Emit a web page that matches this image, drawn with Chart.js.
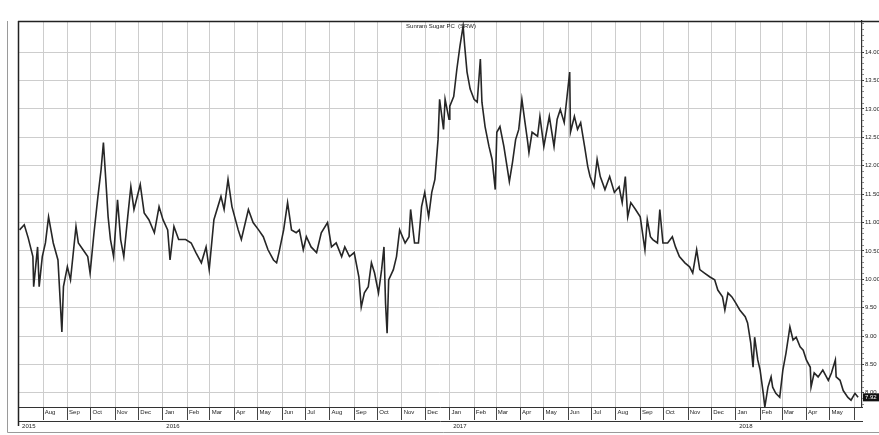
<!DOCTYPE html>
<html>
<head>
<meta charset="utf-8">
<script src="https://cdn.jsdelivr.net/npm/chart.js@4.4.1/dist/chart.umd.min.js"></script>
<style>
  html, body { margin: 0; padding: 0; background: #fff; }
  #wrap { width: 879px; height: 435px; position: relative; }
</style>
</head>
<body>
<div id="wrap"><canvas id="chart" width="879" height="435"></canvas></div>
<script>
const chartTitle = 'Sunram Sugar PC  (SRW)';

// x = days since 1 Jul 2015
const tradeDay = [
  1, 7, 12, 18, 19, 24, 26, 30, 34, 38,
  41, 44, 50, 53, 55, 57, 62, 66, 73, 76,
  82, 88, 91, 96, 101, 105, 108, 111, 114, 117,
  121, 126, 130, 134, 139, 143, 147, 155, 160, 166,
  173, 179, 184, 190, 193, 198, 204, 213, 220, 226,
  233, 239, 243, 249, 258, 262, 267, 272, 280, 284,
  293, 299, 306, 312, 318, 325, 329, 332, 338, 343,
  348, 354, 358, 363, 367, 373, 380, 386, 394, 399,
  405, 412, 416, 422, 428, 434, 437, 441, 446, 450,
  454, 459, 463, 466, 468, 470, 472, 478, 482, 486,
  493, 498, 500, 505, 510, 514, 518, 523, 527, 531,
  535, 537, 542, 544, 549, 550, 555, 559, 563, 567,
  569, 572, 576, 581, 585, 589, 591, 595, 600, 604,
  608, 610, 614, 619, 623, 626, 630, 634, 638, 642,
  646, 649, 651, 655, 662, 665, 670, 677, 683, 687,
  691, 696, 703, 704, 709, 713, 717, 722, 726, 729,
  734, 738, 742, 748, 754, 760, 766, 770, 774, 777,
  781, 787, 793, 799, 802, 806, 809, 815, 818, 822,
  828, 834, 838, 843, 850, 856, 860, 865, 869, 875,
  882, 888, 892, 898, 901, 905, 910, 915, 920, 927,
  930, 934, 937, 939, 943, 946, 950, 952, 956, 960,
  962, 966, 971, 975, 979, 984, 988, 992, 997, 1001,
  1005, 1010, 1011, 1015, 1020, 1026, 1033, 1037, 1042, 1043,
  1048, 1052, 1058, 1062, 1067, 1071
];

const price = [
  10.87, 10.96, 10.73, 10.40, 9.87, 10.57, 9.87, 10.40, 10.64, 11.10,
  10.87, 10.64, 10.34, 9.58, 9.07, 9.87, 10.22, 9.99, 10.93, 10.64,
  10.52, 10.40, 10.11, 10.82, 11.46, 11.93, 12.41, 11.76, 11.10, 10.70,
  10.40, 11.40, 10.70, 10.40, 11.10, 11.63, 11.23, 11.67, 11.17, 11.05,
  10.82, 11.28, 11.05, 10.87, 10.34, 10.93, 10.70, 10.70, 10.64, 10.47,
  10.29, 10.57, 10.17, 11.05, 11.46, 11.23, 11.76, 11.28, 10.87, 10.70,
  11.23, 11.00, 10.87, 10.75, 10.52, 10.34, 10.29, 10.47, 10.87, 11.35,
  10.87, 10.82, 10.87, 10.52, 10.75, 10.57, 10.47, 10.82, 11.00, 10.57,
  10.64, 10.40, 10.57, 10.40, 10.47, 10.04, 9.51, 9.76, 9.87, 10.29,
  10.11, 9.76, 10.17, 10.57, 9.58, 9.05, 9.99, 10.17, 10.40, 10.87,
  10.64, 10.75, 11.23, 10.64, 10.64, 11.28, 11.53, 11.10, 11.53, 11.76,
  12.46, 13.17, 12.64, 13.17, 12.82, 13.05, 13.22, 13.70, 14.11, 14.46,
  14.11, 13.65, 13.35, 13.17, 13.12, 13.88, 13.12, 12.69, 12.34, 12.11,
  11.58, 12.59, 12.69, 12.34, 11.99, 11.72, 12.06, 12.46, 12.64, 13.17,
  12.76, 12.46, 12.23, 12.59, 12.52, 12.87, 12.34, 12.87, 12.34, 12.82,
  12.99, 12.76, 13.65, 12.59, 12.87, 12.64, 12.76, 12.34, 11.99, 11.81,
  11.63, 12.11, 11.81, 11.58, 11.81, 11.53, 11.63, 11.35, 11.81, 11.10,
  11.35, 11.23, 11.10, 10.52, 11.05, 10.75, 10.70, 10.64, 11.23, 10.64,
  10.64, 10.75, 10.57, 10.40, 10.29, 10.22, 10.11, 10.52, 10.17, 10.11,
  10.04, 9.99, 9.81, 9.69, 9.46, 9.76, 9.69, 9.58, 9.46, 9.34,
  9.23, 8.88, 8.45, 8.98, 8.58, 8.40, 7.99, 7.75, 8.10, 8.28,
  8.10, 7.99, 7.92, 8.40, 8.70, 9.16, 8.93, 8.98, 8.81, 8.75,
  8.58, 8.45, 8.10, 8.35, 8.28, 8.40, 8.22, 8.35, 8.58, 8.28,
  8.22, 8.04, 7.92, 7.87, 7.99, 7.92
];

const monthNames = ['Jan','Feb','Mar','Apr','May','Jun','Jul','Aug','Sep','Oct','Nov','Dec'];
const yearLabels = ['2015', '2016', '2017', '2018'];
const yLabelValues = [8.00, 8.50, 9.00, 9.50, 10.00, 10.50, 11.00, 11.50, 12.00, 12.50, 13.00, 13.50, 14.00];

// month ticks from Jul 2015 to Jun 2018
const DAY = 86400000;
const origin = Date.UTC(2015, 6, 1);
const monthTicks = [];
const monthTickLabels = [];
const yearTicks = [];
for (let y = 2015; y <= 2018; y++) {
  for (let m = 0; m < 12; m++) {
    if (y === 2015 && m < 6) continue;
    if (y === 2018 && m > 5) break;
    const d = Math.round((Date.UTC(y, m, 1) - origin) / DAY);
    monthTicks.push(d);
    // first and last month have no room for a label
    const isEdge = (y === 2015 && m === 6) || (y === 2018 && m === 5);
    monthTickLabels.push(isEdge ? '' : monthNames[m]);
    if (m === 0 || (y === 2015 && m === 6)) yearTicks.push(d);
  }
}

const minorTicks = [];
for (let v = 78; v <= 145; v++) minorTicks.push(v / 10);
const isMajor = v => yLabelValues.some(t => Math.abs(t - v) < 1e-6);

const smallFont = { family: 'Liberation Sans, Arial, sans-serif', size: 6 };

const framePlugin = {
  id: 'frame',
  beforeDraw(chart) {
    const c = chart.ctx;
    c.save();
    c.fillStyle = '#ffffff';
    c.fillRect(0, 0, chart.width, chart.height);
    c.restore();
  },
  afterDraw(chart) {
    const c = chart.ctx;
    const a = chart.chartArea;
    c.save();
    // outer page frame
    c.strokeStyle = '#9a9a9a';
    c.lineWidth = 1;
    c.beginPath();
    c.moveTo(7.5, a.top);
    c.lineTo(7.5, chart.height - 2.5);
    c.lineTo(chart.width, chart.height - 2.5);
    c.stroke();
    // top rule and left edge
    c.strokeStyle = '#222';
    c.lineWidth = 1.5;
    c.beginPath();
    c.moveTo(a.left, a.top + 0.5);
    c.lineTo(chart.width, a.top + 0.5);
    c.stroke();
    c.lineWidth = 1.5;
    c.beginPath();
    c.moveTo(a.left + 0.5, a.top);
    c.lineTo(a.left + 0.5, a.bottom + 19);
    c.stroke();
    // title
    c.fillStyle = '#222';
    c.font = '6px Liberation Sans, Arial, sans-serif';
    c.textAlign = 'center';
    c.textBaseline = 'top';
    c.fillText(chartTitle, (a.left + a.right) / 2 + 1, a.top + 2);
    // last price marker
    const last = price[price.length - 1];
    const py = chart.scales.y.getPixelForValue(last);
    c.fillStyle = '#111';
    c.fillRect(a.right + 1, py - 4, chart.width - a.right - 1, 8);
    c.fillStyle = '#fff';
    c.textAlign = 'left';
    c.textBaseline = 'middle';
    c.fillText(last.toFixed(2), a.right + 3, py);
    c.restore();
  }
};

new Chart(document.getElementById('chart'), {
  type: 'line',
  data: {
    datasets: [{
      label: chartTitle,
      data: tradeDay.map((d, i) => ({ x: d, y: price[i] })),
      borderColor: '#262626',
      borderWidth: 1.6,
      pointRadius: 0,
      tension: 0,
      fill: false
    }]
  },
  options: {
    responsive: false,
    animation: false,
    devicePixelRatio: 1,
    layout: { padding: { left: 18, top: 21, right: 0, bottom: 0 } },
    plugins: { legend: { display: false }, tooltip: { enabled: false } },
    scales: {
      x: {
        type: 'linear',
        position: 'bottom',
        min: -1,
        max: 1076,
        afterBuildTicks: s => { s.ticks = monthTicks.map(v => ({ value: v })); },
        afterFit: s => { s.height = 14; },
        grid: { color: '#cdcdcd', lineWidth: 1, drawTicks: true, tickLength: 13, tickColor: '#444' },
        border: { display: true, color: '#333', width: 1 },
        ticks: {
          autoSkip: false, maxRotation: 0, minRotation: 0,
          align: 'start', padding: -11, color: '#222', font: smallFont,
          callback: (v, i) => ' ' + monthTickLabels[i]
        }
      },
      x2: {
        type: 'linear',
        position: 'bottom',
        weight: 1,
        min: -1,
        max: 1076,
        afterBuildTicks: s => { s.ticks = yearTicks.map(v => ({ value: v })); },
        afterFit: s => { s.height = 14; },
        grid: { display: false, drawTicks: false },
        border: { display: true, color: '#333', width: 1 },
        ticks: {
          autoSkip: false, maxRotation: 0, minRotation: 0,
          align: 'start', padding: 2, color: '#222', font: smallFont,
          callback: (v, i) => '  ' + yearLabels[i]
        }
      },
      y: {
        type: 'linear',
        position: 'right',
        min: 7.75,
        max: 14.55,
        afterBuildTicks: s => { s.ticks = minorTicks.map(v => ({ value: v })); },
        afterFit: s => { s.width = 17; },
        grid: {
          color: ctx => isMajor(ctx.tick.value) ? '#cdcdcd' : 'rgba(0,0,0,0)',
          tickColor: ctx => isMajor(ctx.tick.value) ? '#333' : '#888',
          tickLength: 2
        },
        border: { display: true, color: '#333', width: 1.2 },
        ticks: {
          autoSkip: false, padding: 1, color: '#222', font: smallFont,
          callback: v => isMajor(v) ? v.toFixed(2) : ''
        }
      }
    }
  },
  plugins: [framePlugin]
});
</script>
</body>
</html>
